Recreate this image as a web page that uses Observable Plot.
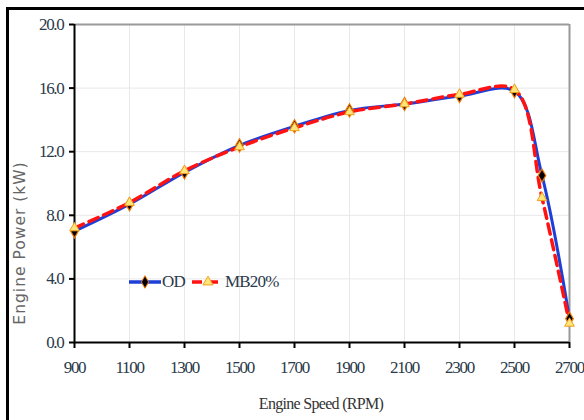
<!DOCTYPE html>
<html>
<head>
<meta charset="utf-8">
<script src="https://cdn.jsdelivr.net/npm/d3@7"></script>
<script src="https://cdn.jsdelivr.net/npm/@observablehq/plot@0.6"></script>
<style>
  body { margin: 0; background: #fff; }
  #wrap { position: relative; width: 584px; height: 420px; overflow: hidden; background: #fff; }
  #chart { position: absolute; left: 0; top: 0; }
  .bl { position: absolute; left: 6px; top: 7px; width: 3px; height: 420px; background: #000; }
  .bt { position: absolute; left: 6px; top: 7px; width: 578px; height: 3px; background: #000; }
  #legend { position: absolute; left: 128px; top: 272px; display: flex; align-items: center;
            font-family: "Liberation Serif", serif; font-size: 17px; color: #2b3a4a; letter-spacing: -0.8px; }
  #legend span { margin-right: 6px; }
  #ylab { position: absolute; left: 20px; top: 243px; transform: translate(-50%, -50%) rotate(-90deg);
          font-family: "DejaVu Sans", sans-serif; font-size: 15.5px; color: #666; letter-spacing: 1px; white-space: nowrap; }
  #xlab { position: absolute; left: 321px; top: 395px; transform: translateX(-50%);
          font-family: "Liberation Serif", serif; font-size: 16px; color: #333; letter-spacing: -0.7px; white-space: nowrap; }
</style>
</head>
<body>
<div id="wrap">
  <div id="chart"></div>
  <div class="bl"></div>
  <div class="bt"></div>
  <div id="ylab">Engine Power (kW)</div>
  <div id="xlab">Engine Speed (RPM)</div>
  <div id="legend"></div>
</div>
<script>
const speeds = [900, 1100, 1300, 1500, 1700, 1900, 2100, 2300, 2500, 2600, 2700];
const powerOD = [7.0, 8.7, 10.7, 12.4, 13.6, 14.6, 15.0, 15.5, 15.8, 10.5, 1.5];
const powerMB20 = [7.2, 8.8, 10.8, 12.3, 13.5, 14.5, 15.0, 15.6, 15.9, 9.1, 1.2];
const xTicks = [900, 1100, 1300, 1500, 1700, 1900, 2100, 2300, 2500, 2700];
const yTicks = [0, 4, 8, 12, 16, 20];
const seriesNames = ["OD", "MB20%"];

const od = speeds.map((s, i) => ({x: s, y: powerOD[i]}));
const mb = speeds.map((s, i) => ({x: s, y: powerMB20[i]}));

const blue = "#1c3fd8", red = "#ff1212";

const chart = Plot.plot({
  width: 584, height: 420,
  marginLeft: 74, marginRight: 15, marginTop: 24, marginBottom: 78,
  style: {fontFamily: "Liberation Serif, serif", fontSize: "17px", color: "#2b3a4a", background: "transparent"},
  x: {domain: [900, 2700], ticks: xTicks, label: null},
  y: {domain: [0, 20], ticks: yTicks, label: null},
  marks: [
    Plot.gridX(xTicks, {stroke: "#e8e8e8", strokeOpacity: 1}),
    Plot.gridY(yTicks, {stroke: "#e8e8e8", strokeOpacity: 1}),
    Plot.ruleY([20], {stroke: "#999", strokeWidth: 2}),
    Plot.ruleX([2700], {stroke: "#999", strokeWidth: 2}),
    Plot.axisX(xTicks, {tickSize: 6, tickPadding: 12, fontSize: 17, tickFormat: d => String(d), stroke: "#000", strokeWidth: 2, fill: "#2b3a4a"}),
    Plot.axisY(yTicks, {tickSize: 5, tickPadding: 6, fontSize: 17, tickFormat: d3.format(".1f"), stroke: "#000", strokeWidth: 2, fill: "#2b3a4a"}),
    Plot.ruleY([0], {stroke: "#000", strokeWidth: 2}),
    Plot.ruleX([900], {stroke: "#000", strokeWidth: 2}),
    Plot.line(od, {x: "x", y: "y", curve: "catmull-rom", stroke: blue, strokeWidth: 3}),
    Plot.line(mb, {x: "x", y: "y", curve: "catmull-rom", stroke: red, strokeWidth: 3.5, strokeDasharray: "10,6"}),
    Plot.dot(od, {x: "x", y: "y", symbol: "diamond", r: 4, fill: "#000", stroke: "#f07800", strokeWidth: 1.2}),
    Plot.dot(mb, {x: "x", y: "y", symbol: "triangle", r: 3.6, fill: "#ffe47a", stroke: "#f0a020", strokeWidth: 1})
  ]
});
chart.querySelectorAll("g[aria-label='x-axis tick label'] text, g[aria-label='y-axis tick label'] text").forEach(t => t.setAttribute("letter-spacing", "-1.3"));
document.getElementById("chart").appendChild(chart);

// legend
const leg = document.getElementById("legend");
function item(name, color, dash, symbol, fill, stroke) {
  const ns = "http://www.w3.org/2000/svg";
  const svg = document.createElementNS(ns, "svg");
  svg.setAttribute("width", 34); svg.setAttribute("height", 16);
  const ln = document.createElementNS(ns, "line");
  ln.setAttribute("x1", 1); ln.setAttribute("x2", 33); ln.setAttribute("y1", 8); ln.setAttribute("y2", 8);
  ln.setAttribute("stroke", color); ln.setAttribute("stroke-width", 3.5);
  if (dash) ln.setAttribute("stroke-dasharray", dash);
  svg.appendChild(ln);
  const p = document.createElementNS(ns, "path");
  p.setAttribute("d", d3.symbol(symbol, 45)());
  p.setAttribute("transform", "translate(17,8)");
  p.setAttribute("fill", fill); p.setAttribute("stroke", stroke);
  svg.appendChild(p);
  leg.appendChild(svg);
  const s = document.createElement("span"); s.textContent = name; leg.appendChild(s);
}
item(seriesNames[0], blue, null, d3.symbolDiamond, "#000", "#f07800");
item(seriesNames[1], red, "10,6", d3.symbolTriangle, "#ffe47a", "#f0a020");
</script>
</body>
</html>
